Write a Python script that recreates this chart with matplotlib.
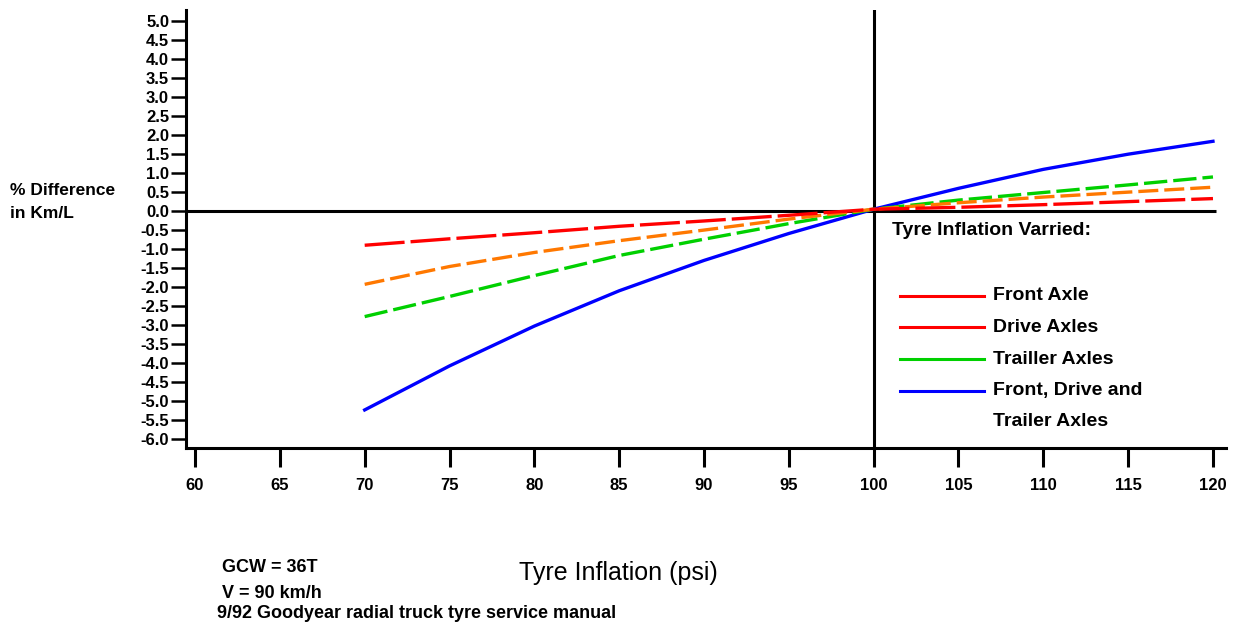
import matplotlib
matplotlib.use("Agg")
import matplotlib.pyplot as plt
from matplotlib.lines import Line2D

plt.rcParams['font.family'] = ['Liberation Sans', 'DejaVu Sans']
plt.rcParams['axes.unicode_minus'] = False

# Tyre inflation pressure (psi) and % change in fuel economy (Km/L)
psi = [70, 75, 80, 85, 90, 95, 100, 105, 110, 115, 120]
front_axle = [-0.90, -0.73, -0.57, -0.40, -0.26, -0.11, 0.05, 0.10, 0.17, 0.25, 0.33]
drive_axles = [-1.93, -1.46, -1.09, -0.78, -0.50, -0.21, 0.05, 0.22, 0.37, 0.50, 0.63]
trailer_axles = [-2.78, -2.25, -1.70, -1.17, -0.74, -0.33, 0.05, 0.29, 0.49, 0.69, 0.90]
all_axles = [-5.24, -4.08, -3.03, -2.10, -1.30, -0.59, 0.05, 0.60, 1.10, 1.50, 1.84]

x_ticks = [60, 65, 70, 75, 80, 85, 90, 95, 100, 105, 110, 115, 120]
y_ticks = [5.0 - 0.5 * i for i in range(23)]
y_tick_labels = [f"{v:.1f}" for v in y_ticks]

legend_labels = ["Front Axle", "Drive Axles", "Trailler Axles", "Front, Drive and"]
legend_colors = ["#ff0000", "#ff0000", "#00d000", "#0000ff"]
legend_extra_line = "Trailer Axles"

W, H = 1237, 625
fig = plt.figure(figsize=(W / 100, H / 100), dpi=100)
ax = fig.add_axes([185.7 / W, 1 - 447.5 / H, (1225.7 - 185.7) / W, (447.5 - 10) / H])

ax.set_xlim(59.45, 120.75)
ax.set_ylim(-6.23, 5.3)

# Reference lines through the 100 psi / 0 % origin
ax.plot([59.45, 120.15], [0, 0], color="black", lw=2.2, zorder=1, solid_capstyle="butt")
ax.axvline(100, color="black", lw=2.2, zorder=1)

lw = 2.4
ax.plot(psi, all_axles, color="#0000ff", lw=lw, zorder=2)
ax.plot(psi, trailer_axles, color="#00d000", lw=lw, dashes=(7, 1.8), zorder=3)
ax.plot(psi, drive_axles, color="#ff7800", lw=lw, dashes=(6, 1.8), zorder=4)
ax.plot(psi, front_axle, color="#ff0000", lw=lw, dashes=(12, 1.8), zorder=5)

for s in ("top", "right"):
    ax.spines[s].set_visible(False)
for s in ("left", "bottom"):
    ax.spines[s].set_linewidth(2.2)

ax.set_xticks(x_ticks)
ax.set_xticklabels([str(v) for v in x_ticks], fontsize=12, fontweight="bold")
ax.set_yticks(y_ticks)
ax.set_yticklabels(y_tick_labels, fontsize=12, fontweight="bold")
ax.tick_params(axis="x", length=14, width=2.2, pad=8)
ax.tick_params(axis="y", length=11, width=1.8, pad=1)

# Axis titles and annotations
fig.text(10 / W, 1 - 190 / H, "% Difference", fontsize=12.5, fontweight="bold", va="center")
fig.text(10 / W, 1 - 214 / H, "in Km/L", fontsize=12.5, fontweight="bold", va="center")
fig.text(618 / W, 1 - 573 / H, "Tyre Inflation (psi)", fontsize=18, ha="center", va="center")
fig.text(222 / W, 1 - 567 / H, "GCW = 36T", fontsize=13, fontweight="bold", va="center")
fig.text(222 / W, 1 - 593 / H, "V = 90 km/h", fontsize=13, fontweight="bold", va="center")
fig.text(217 / W, 1 - 613 / H, "9/92 Goodyear radial truck tyre service manual",
         fontsize=13, fontweight="bold", va="center")

# Key
fig.text(892 / W, 1 - 231 / H, "Tyre Inflation Varried:", fontsize=14, fontweight="bold", va="center")
key_rows = [296, 327, 359, 391]
for label, color, y in zip(legend_labels, legend_colors, key_rows):
    fig.add_artist(Line2D([900 / W, 984 / W], [1 - y / H, 1 - y / H], color=color, lw=2.2,
                          transform=fig.transFigure))
    fig.text(993 / W, 1 - y / H, label, fontsize=14, fontweight="bold", va="center")
fig.text(993 / W, 1 - 422 / H, legend_extra_line, fontsize=14, fontweight="bold", va="center")

fig.savefig("out.png", dpi=100)
